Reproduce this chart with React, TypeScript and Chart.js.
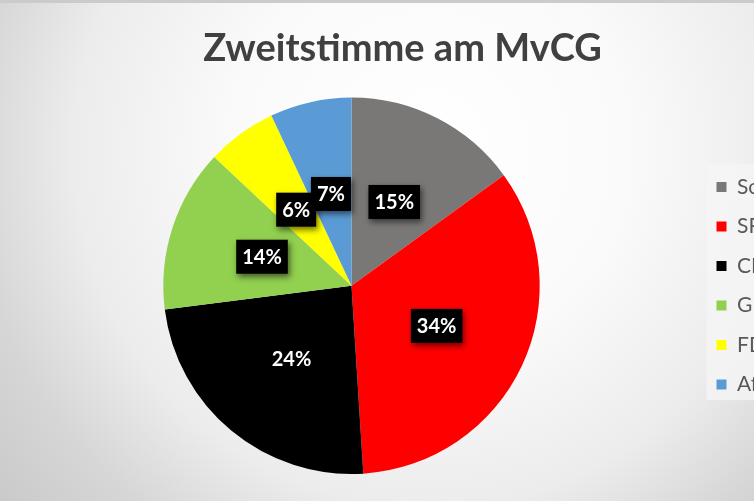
import React, { useEffect, useRef } from "react";
import { Chart, registerables } from "chart.js";

Chart.register(...registerables);

const TITLE = "Zweitstimme am MvCG";
const PARTIES = ["Sonstige", "SPD", "CDU", "GRÜNE", "FDP", "AfD"];
const SHARES = [15, 34, 24, 14, 6, 7];
const COLORS = ["#7a7876", "#ff0000", "#000000", "#92d050", "#ffff00", "#5b9bd5"];

const legendBgPlugin = {
  id: "legendBg",
  beforeDraw(chart: any) {
    const lg = chart.legend;
    if (!lg || !lg.legendHitBoxes || !lg.legendHitBoxes.length) return;
    const boxes = lg.legendHitBoxes;
    const top = Math.min(...boxes.map((b: any) => b.top));
    const bottom = Math.max(...boxes.map((b: any) => b.top + b.height));
    const left = Math.min(...boxes.map((b: any) => b.left));
    const ctx = chart.ctx;
    ctx.save();
    ctx.fillStyle = "rgba(245,245,245,0.75)";
    ctx.fillRect(left - 10, top - 12, chart.width - left + 10, bottom - top + 17);
    ctx.restore();
  },
};

const pctLabelPlugin = {
  id: "pctLabels",
  afterDatasetsDraw(chart: any) {
    const ctx = chart.ctx;
    const meta = chart.getDatasetMeta(0);
    const data = chart.data.datasets[0].data as number[];
    const total = data.reduce((a, b) => a + b, 0);
    ctx.save();
    ctx.font = "bold 20px Lato";
    ctx.textAlign = "center";
    ctx.textBaseline = "middle";
    meta.data.forEach((arc: any, i: number) => {
      const { x, y } = arc.tooltipPosition();
      const text = Math.round((data[i] / total) * 100) + "%";
      const w = ctx.measureText(text).width + 12;
      const h = 34;
      ctx.save();
      ctx.shadowColor = "rgba(0,0,0,0.55)";
      ctx.shadowBlur = 6;
      ctx.shadowOffsetX = 2;
      ctx.shadowOffsetY = 3;
      ctx.fillStyle = "#000000";
      ctx.fillRect(x - w / 2, y - h / 2, w, h);
      ctx.restore();
      ctx.fillStyle = "#ffffff";
      ctx.fillText(text, x, y + 1);
    });
    ctx.restore();
  },
};

export default function App() {
  const ref = useRef<HTMLCanvasElement | null>(null);

  useEffect(() => {
    let chart: Chart | null = null;
    let cancelled = false;
    const make = () => {
      if (cancelled || !ref.current) return;
      chart = new Chart(ref.current, {
        type: "pie",
        data: {
          labels: PARTIES,
          datasets: [
            {
              data: SHARES,
              backgroundColor: COLORS,
              borderWidth: 0,
            },
          ],
        },
        options: {
          responsive: false,
          animation: false,
          devicePixelRatio: 1,
          layout: { padding: { left: 5, right: 0, top: 0, bottom: 27 } },
          plugins: {
            tooltip: { enabled: false },
            title: {
              display: true,
              text: TITLE,
              color: "#404040",
              font: { family: "Lato", size: 38, weight: "bold" },
              padding: { top: 26.2, bottom: 25.8 },
            },
            legend: {
              display: true,
              position: "right",
              fullSize: false,
              maxWidth: 102,
              labels: {
                boxWidth: 10,
                boxHeight: 10,
                padding: 18.5,
                color: "#595959",
                font: { family: "Lato", size: 21 },
              },
            },
          },
        },
        plugins: [legendBgPlugin, pctLabelPlugin],
      } as any);
    };
    const fonts: any = (document as any).fonts;
    if (fonts && fonts.load) {
      Promise.all([
        fonts.load("bold 38px Lato"),
        fonts.load("21px Lato"),
      ]).then(make, make);
    } else {
      make();
    }
    return () => {
      cancelled = true;
      if (chart) chart.destroy();
    };
  }, []);

  return (
    <div
      style={{
        position: "fixed",
        left: 0,
        top: 0,
        width: 754,
        height: 501,
        overflow: "hidden",
        background:
          "radial-gradient(circle at 430px 150px, #ffffff 0px, #fafafa 200px, #ececec 357px, #d6d6d6 460px, #c8c8c8 570px)",
      }}
    >
      <div style={{ position: "absolute", left: 0, top: 0, width: 754, height: 3, background: "#cbcbcb" }} />
      <canvas ref={ref} width={800} height={501} style={{ position: "absolute", left: 0, top: 0, width: 800, height: 501 }} />
    </div>
  );
}
